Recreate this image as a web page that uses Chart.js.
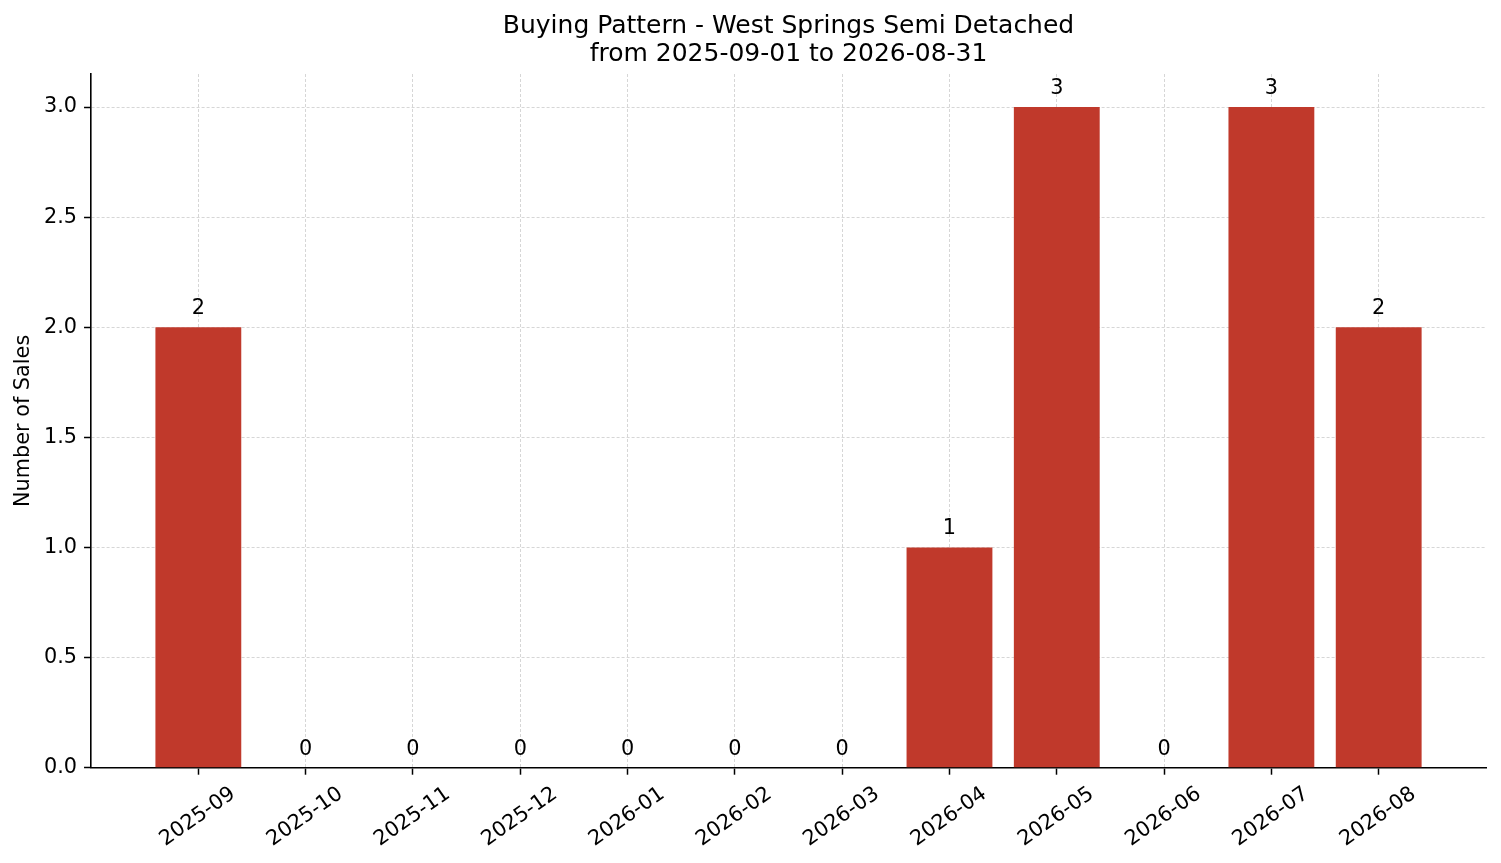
<!DOCTYPE html>
<html>
<head>
<meta charset="utf-8">
<script src="https://cdn.jsdelivr.net/npm/chart.js@4"></script>
<style>
  html, body { margin: 0; padding: 0; background: #fff; }
  #wrap { width: 1501px; height: 863px; }
</style>
</head>
<body>
<div id="wrap"><canvas id="myChart"></canvas></div>
<script>
var months = ['2025-09', '2025-10', '2025-11', '2025-12', '2026-01', '2026-02',
  '2026-03', '2026-04', '2026-05', '2026-06', '2026-07', '2026-08'];
var sales = [2, 0, 0, 0, 0, 0, 0, 1, 3, 0, 3, 2];
var yTicks = [0, 0.5, 1.0, 1.5, 2.0, 2.5, 3.0];

var FONT = "'DejaVu Sans', sans-serif";
var gridColor = '#d6d6d6';

// draw the count above every bar (zeros too)
var valueLabels = {
  id: 'valueLabels',
  afterDraw: function(chart) {
    var c = chart.ctx;
    var meta = chart.getDatasetMeta(0);
    c.save();
    c.font = '20.8px ' + FONT;
    c.fillStyle = '#000';
    c.textAlign = 'center';
    c.textBaseline = 'alphabetic';
    meta.data.forEach(function(bar, i) {
      c.fillText(String(sales[i]), bar.x, bar.y - 13);
    });
    c.restore();
  }
};

var ctx = document.getElementById('myChart');
var myChart = new Chart(ctx, {
  type: 'bar',
  data: {
    datasets: [{
      label: 'Sales',
      data: months.map(function(m, i) { return { x: i, y: sales[i] }; }),
      backgroundColor: '#c0392b',
      borderWidth: 0,
      barPercentage: 0.8,
      categoryPercentage: 1.0
    }]
  },
  plugins: [valueLabels],
  options: {
    responsive: true,
    maintainAspectRatio: false,
    animation: false,
    devicePixelRatio: 1,
    layout: { padding: { left: 11, right: 15, top: 0, bottom: 4 } },
    plugins: {
      legend: { display: false },
      tooltip: { enabled: false },
      title: {
        display: true,
        fullSize: false,
        text: ['Buying Pattern - West Springs Semi Detached', 'from 2025-09-01 to 2026-08-31'],
        color: '#000',
        font: { family: FONT, size: 25, weight: 'normal', lineHeight: 1.14 },
        padding: { top: 12, bottom: 5 }
      }
    },
    scales: {
      x: {
        type: 'linear',
        min: -1,
        max: 12,
        offset: false,
        z: 1,
        afterBuildTicks: function(axis) {
          axis.ticks = axis.ticks.filter(function(t) { return t.value >= 0 && t.value <= 11; });
        },
        ticks: {
          stepSize: 1,
          autoSkip: false,
          minRotation: 35,
          maxRotation: 35,
          labelOffset: 35,
          padding: 7,
          color: '#000',
          font: { family: FONT, size: 20.8 },
          callback: function(v) { return months[v] || ''; }
        },
        grid: {
          offset: false,
          color: gridColor,
          lineWidth: 1,
          tickColor: '#000',
          tickLength: 7,
          tickWidth: 1.5,
          tickBorderDash: []
        },
        border: { display: true, color: '#000', width: 1.6, dash: [3, 2] }
      },
      y: {
        min: 0,
        max: 3.15,
        z: 1,
        afterBuildTicks: function(axis) {
          axis.ticks = yTicks.map(function(v) { return { value: v }; });
        },
        ticks: {
          stepSize: 0.5,
          includeBounds: false,
          padding: 7,
          color: '#000',
          font: { family: FONT, size: 20.8 },
          callback: function(v) { return Number(v).toFixed(1); }
        },
        grid: {
          color: gridColor,
          lineWidth: 1,
          tickColor: '#000',
          tickLength: 7,
          tickWidth: 1.5,
          tickBorderDash: []
        },
        border: { display: true, color: '#000', width: 1.6, dash: [3, 2] },
        title: {
          display: true,
          text: 'Number of Sales',
          color: '#000',
          font: { family: FONT, size: 20.8 },
          padding: { top: 0, bottom: 1 }
        }
      }
    }
  }
});
</script>
</body>
</html>
